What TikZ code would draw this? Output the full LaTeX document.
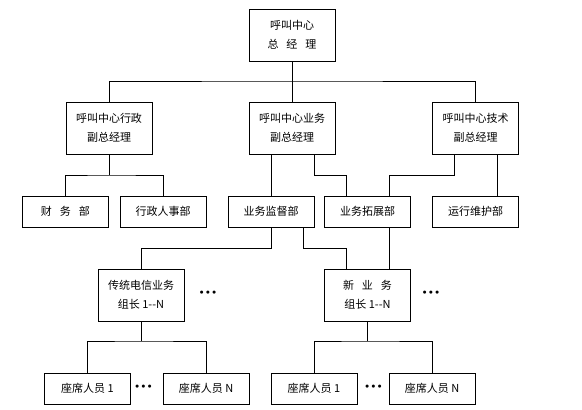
\documentclass[tikz,border=0pt]{standalone}
\usepackage{fontspec}
\setmainfont{Noto Sans CJK SC}
\newfontfamily\dotfont{DejaVu Sans}
\begin{document}
\begin{tikzpicture}[x=1pt,y=-1pt,
  every node/.style={font=\fontsize{11pt}{19.5pt}\selectfont},
  bigbox/.style={draw,line width=0.8pt,minimum width=86pt,minimum height=52pt,inner sep=0pt,align=center},
  smallbox/.style={draw,line width=0.8pt,minimum width=86pt,minimum height=31pt,inner sep=0pt,align=center},
  conn/.style={line width=0.8pt},
  dots/.style={inner sep=0pt,font=\dotfont\fontsize{10.5pt}{10.5pt}\selectfont}]
\useasboundingbox (0,0) rectangle (582,410);
% level 1
\node[bigbox] (top) at (292,35) {呼叫中心\\总\hspace{8pt}经\hspace{8pt}理};
% level 2
\node[bigbox] (adm) at (109,128) {呼叫中心行政\\副总经理};
\node[bigbox] (biz) at (292,128) {呼叫中心业务\\副总经理};
\node[bigbox] (tech) at (475.5,128) {呼叫中心技术\\副总经理};
% level 3
\node[smallbox] (fin) at (65.5,211.5) {财\hspace{8pt}务\hspace{8pt}部};
\node[smallbox] (hr) at (163,211.5) {行政人事部};
\node[smallbox] (sup) at (271,211.5) {业务监督部};
\node[smallbox] (dev) at (367.5,211.5) {业务拓展部};
\node[smallbox] (ops) at (475.5,211.5) {运行维护部};
% level 4
\node[bigbox] (trad) at (141,295) {传统电信业务\\组长 1-{}-N};
\node[bigbox] (new) at (367.5,295) {新\hspace{8pt}业\hspace{8pt}务\\组长 1-{}-N};
\node[dots] (d1) at (208,294) {•••};
\node[dots] (d2) at (431,294) {•••};
% level 5
\node[smallbox] (s1) at (87.5,388.5) {座席人员 1};
\node[smallbox] (sN) at (206,388.5) {座席人员 N};
\node[smallbox] (s1b) at (314,388.5) {座席人员 1};
\node[smallbox] (sNb) at (432,388.5) {座席人员 N};
\node[dots] (d3) at (143.5,388) {•••};
\node[dots] (d4) at (373.5,388) {•••};
% connectors
\coordinate (b1) at (292,81);
\draw[conn] (top.south) -- (biz.north);
\draw[conn] (adm.north) |- (b1) -| (tech.north);
\coordinate (b2) at (109,175);
\draw[conn] (adm.south) -- (b2);
\draw[conn] (fin.north) |- (b2) -| (hr.north);
\draw[conn] ([xshift=-21pt]biz.south) -- ([xshift=-21pt]biz.south |- sup.north);
\draw[conn] ([xshift=22pt]biz.south) -- ++(0,21) -| ([xshift=-21.5pt]dev.north);
\draw[conn] ([xshift=-21.5pt]tech.south) -- ++(0,21) -| ([xshift=21.5pt]dev.north);
\draw[conn] ([xshift=21.5pt]tech.south) -- ([xshift=21.5pt]ops.north);
\draw[conn] (sup.south) -- ++(0,21) -| (trad.north);
\draw[conn] ([xshift=32pt]sup.south) -- ++(0,21) -| ([xshift=-21.5pt]new.north);
\draw[conn] ([xshift=21.5pt]dev.south) -- ([xshift=21.5pt]new.north);
\coordinate (b3) at (141,341);
\draw[conn] (trad.south) -- (b3);
\draw[conn] (s1.north) |- (b3) -| (sN.north);
\coordinate (b4) at (367.5,341);
\draw[conn] (new.south) -- (b4);
\draw[conn] (s1b.north) |- (b4) -| (sNb.north);
\end{tikzpicture}
\end{document}
